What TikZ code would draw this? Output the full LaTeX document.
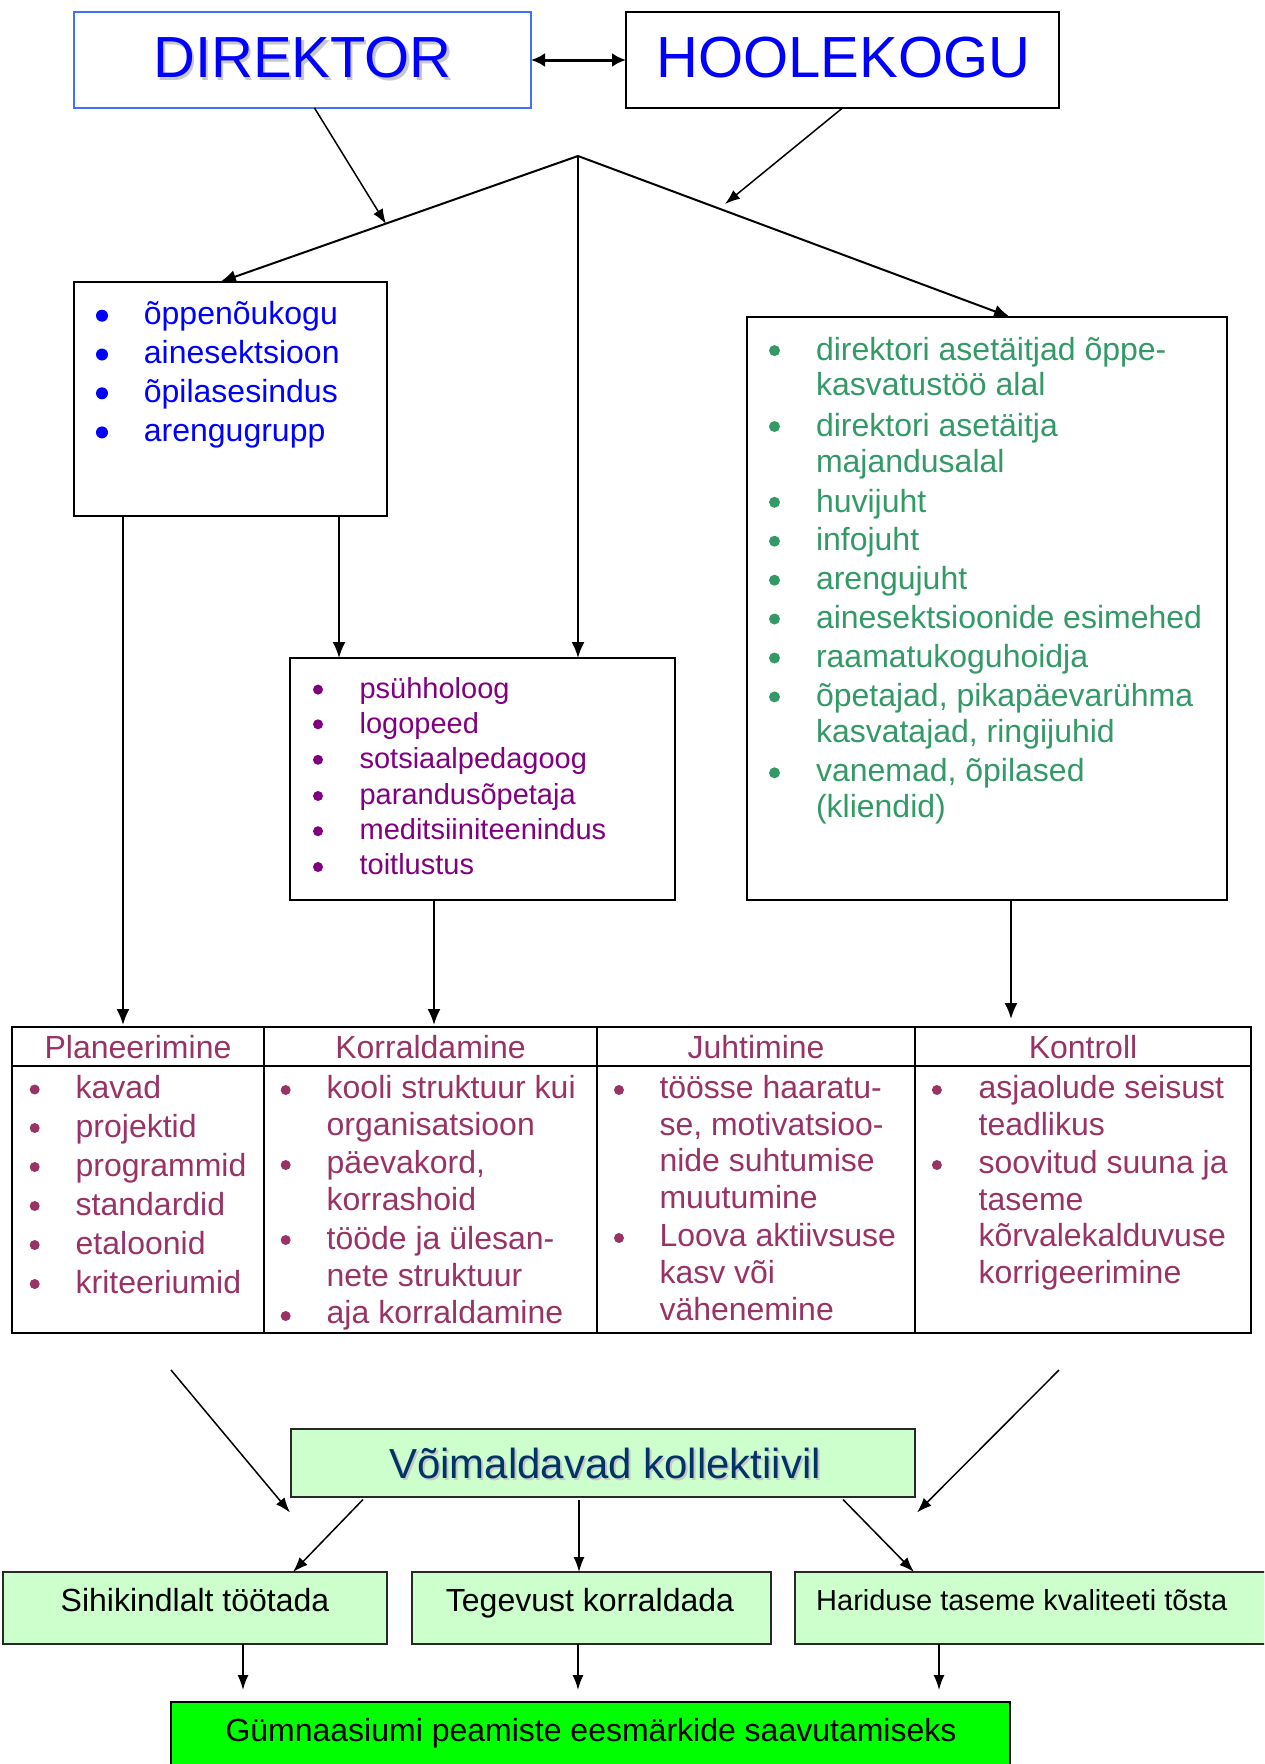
\documentclass[tikz,border=0pt]{standalone}
\usepackage{fontspec}
\setmainfont{Liberation Sans}
\usetikzlibrary{arrows.meta,calc}
\definecolor{dirblue}{RGB}{0,0,255}
\definecolor{dirframe}{RGB}{64,112,255}
\definecolor{purp}{RGB}{128,0,128}
\definecolor{grn}{RGB}{51,153,102}
\definecolor{plum}{RGB}{153,51,102}
\definecolor{navy}{RGB}{0,51,102}
\definecolor{lgreen}{RGB}{204,255,204}
\definecolor{bgreen}{RGB}{0,255,0}
\definecolor{shad}{RGB}{200,200,200}
\newcommand\mybul[4]{\fill[#1] (#2,#3) circle (#4pt);}
\begin{document}
\begin{tikzpicture}[x=1pt,y=-1pt,
 frame/.style={draw=black,line width=2pt,inner sep=0pt,outer sep=0pt},
 gbox/.style={frame,draw={rgb,255:red,40;green,40;blue,40},fill=lgreen},
 arr/.style={line width=2pt,-{Latex[length=16pt,width=13pt]}},
 tarr/.style={line width=1.5pt,-{Latex[length=15pt,width=11pt]}},
 lb/.style={anchor=base west,inner sep=0pt,text=dirblue,font=\fontsize{32}{38}\selectfont},
 mb/.style={anchor=base west,inner sep=0pt,text=purp,font=\fontsize{29}{35}\selectfont},
 rb/.style={anchor=base west,inner sep=0pt,text=grn,font=\fontsize{32}{38}\selectfont},
 tb/.style={anchor=base west,inner sep=0pt,text=plum,font=\fontsize{32}{38}\selectfont},
 th/.style={anchor=base,inner sep=0pt,text=plum,font=\fontsize{32}{38}\selectfont},
 big/.style={anchor=base,inner sep=0pt,font=\fontsize{58}{66}\selectfont},
 gt/.style={anchor=base,inner sep=0pt,text=black,font=\fontsize{32}{38}\selectfont},
]
\useasboundingbox (0,0) rectangle (1264,1764);
\clip (0,0) rectangle (1264,1764);

% ---------- top boxes
\node[frame,draw=dirframe,minimum width=457pt,minimum height=96pt] (dir) at (302.5,60) {};
\node[frame,minimum width=433pt,minimum height=96pt] (hoo) at (842.5,60) {};
\node[big,text=shad] (dirsh) at (305,80) {DIREKTOR};
\node[big,text=dirblue] (dirt) at (302.5,77.5) {DIREKTOR};
\node[big,text=dirblue] (hoot) at (843.5,77.5) {HOOLEKOGU};
\draw[line width=3pt,{Latex[length=14pt,width=14pt]}-{Latex[length=14pt,width=14pt]}] (dir.east) -- (hoo.west);

% ---------- second level boxes
\node[frame,minimum width=313pt,minimum height=234pt] (lbox) at (230.5,399) {};
\node[frame,minimum width=385pt,minimum height=242pt] (mbox) at (482.5,779) {};
\node[frame,minimum width=480pt,minimum height=583pt] (rbox) at (987,608.5) {};

\coordinate (apex) at (578,156);
\coordinate (djoin) at (386,224);
\coordinate (hjoin) at (725,204);
\draw[arr] (apex) -- ($(lbox.north west)+(146,0)$);
\draw[arr] (apex) -- ($(rbox.north west)+(263,0)$);
\draw[arr] (apex) -- ($(mbox.north west)+(288,0)$);
\draw[tarr] ($(dir.south)+(12,0)$) -- (djoin);
\draw[tarr] (hoo.south) -- (hjoin);

% left box list
\mybul{dirblue}{102}{315.7}{6}
\mybul{dirblue}{102}{354.5}{6}
\mybul{dirblue}{102}{393.3}{6}
\mybul{dirblue}{102}{432.4}{6}
\node[lb] (l1) at (143.7,324.3) {õppenõukogu};
\node[lb] (l2) at (143.7,363.9) {ainesektsioon};
\node[lb] (l3) at (143.7,402.6) {õpilasesindus};
\node[lb] (l4) at (143.7,441.4) {arengugrupp};

% middle box list
\foreach \yy in {689.6,724.3,759.8,796,831.2,867}{\mybul{purp}{318}{\yy}{5}}
\node[mb] (m1) at (359.4,698.6) {psühholoog};
\node[mb] (m2) at (359.4,733.3) {logopeed};
\node[mb] (m3) at (359.4,768.8) {sotsiaalpedagoog};
\node[mb] (m4) at (359.4,804.7) {parandusõpetaja};
\node[mb] (m5) at (359.4,839.4) {meditsiiniteenindus};
\node[mb] (m6) at (359.4,874.9) {toitlustus};

% right box list
\foreach \yy in {350.6,426.5,502.3,541.2,580.2,619,658,696.9,772.8}{\mybul{grn}{774.5}{\yy}{5.5}}
\node[rb] (r1) at (815.8,360.3) {direktori asetäitjad õppe-};
\node[rb] (r2) at (815.8,395.3) {kasvatustöö alal};
\node[rb] (r3) at (815.8,436.2) {direktori asetäitja};
\node[rb] (r4) at (815.8,472) {majandusalal};
\node[rb] (r5) at (815.8,512) {huvijuht};
\node[rb] (r6) at (815.8,550.2) {infojuht};
\node[rb] (r7) at (815.8,589.9) {arengujuht};
\node[rb] (r8) at (815.8,628.8) {ainesektsioonide esimehed};
\node[rb] (r9) at (815.8,667.7) {raamatukoguhoidja};
\node[rb] (r10) at (815.8,706.6) {õpetajad, pikapäevarühma};
\node[rb] (r11) at (815.8,742.4) {kasvatajad, ringijuhid};
\node[rb] (r12) at (815.8,781.3) {vanemad, õpilased};
\node[rb] (r13) at (815.8,817.5) {(kliendid)};

% ---------- table
\node[frame,minimum width=252pt,minimum height=39pt] (h1) at (138,1046.5) {};
\node[frame,minimum width=333pt,minimum height=39pt] (h2) at (430.5,1046.5) {};
\node[frame,minimum width=318pt,minimum height=39pt] (h3) at (756,1046.5) {};
\node[frame,minimum width=336pt,minimum height=39pt] (h4) at (1083,1046.5) {};
\node[frame,minimum width=252pt,minimum height=267pt] (b1) at (138,1199.5) {};
\node[frame,minimum width=333pt,minimum height=267pt] (b2) at (430.5,1199.5) {};
\node[frame,minimum width=318pt,minimum height=267pt] (b3) at (756,1199.5) {};
\node[frame,minimum width=336pt,minimum height=267pt] (b4) at (1083,1199.5) {};
\node[th] (t1) at (138,1058) {Planeerimine};
\node[th] (t2) at (430.5,1058) {Korraldamine};
\node[th] (t3) at (756,1058) {Juhtimine};
\node[th] (t4) at (1083,1058) {Kontroll};

\draw[arr] ($(lbox.south west)+(49,0)$) -- ($(h1.north west)+(111,-2)$);
\draw[arr] ($(lbox.south west)+(265,0)$) -- ($(mbox.north west)+(49,0)$);
\draw[arr] ($(mbox.south west)+(144,0)$) -- ($(h2.north west)+(170,-2)$);
\draw[arr] ($(rbox.south west)+(264,0)$) -- ($(h4.north west)+(96,-8)$);

% column 1
\foreach \yy in {1089.5,1128,1167,1206,1245,1284}{\mybul{plum}{34.7}{\yy}{5}}
\node[tb] (p1) at (75.5,1098.5) {kavad};
\node[tb] (p2) at (75.5,1137) {projektid};
\node[tb] (p3) at (75.5,1176) {programmid};
\node[tb] (p4) at (75.5,1215) {standardid};
\node[tb] (p5) at (75.5,1254) {etaloonid};
\node[tb] (p6) at (75.5,1293) {kriteeriumid};
% column 2
\foreach \yy in {1090,1165,1240,1316}{\mybul{plum}{285.7}{\yy}{5}}
\node[tb] (k1) at (326.5,1098) {kooli struktuur kui};
\node[tb] (k2) at (326.5,1135) {organisatsioon};
\node[tb] (k3) at (326.5,1173) {päevakord,};
\node[tb] (k4) at (326.5,1210) {korrashoid};
\node[tb] (k5) at (326.5,1249) {tööde ja ülesan-};
\node[tb] (k6) at (326.5,1286) {nete struktuur};
\node[tb] (k7) at (326.5,1323) {aja korraldamine};
% column 3
\foreach \yy in {1090,1238}{\mybul{plum}{619}{\yy}{5}}
\node[tb] (j1) at (659.3,1098) {töösse haaratu-};
\node[tb] (j2) at (659.3,1135) {se, motivatsioo-};
\node[tb] (j3) at (659.3,1171.7) {nide suhtumise};
\node[tb] (j4) at (659.3,1208) {muutumine};
\node[tb] (j5) at (659.3,1246.7) {Loova aktiivsuse};
\node[tb] (j6) at (659.3,1283) {kasv või};
\node[tb] (j7) at (659.3,1320) {vähenemine};
% column 4
\foreach \yy in {1090,1165}{\mybul{plum}{936.9}{\yy}{5}}
\node[tb] (c1) at (978.4,1098) {asjaolude seisust};
\node[tb] (c2) at (978.4,1135) {teadlikus};
\node[tb] (c3) at (978.4,1173) {soovitud suuna ja};
\node[tb] (c4) at (978.4,1210) {taseme};
\node[tb] (c5) at (978.4,1246.7) {kõrvalekalduvuse};
\node[tb] (c6) at (978.4,1283) {korrigeerimine};

% ---------- bottom part
\node[gbox,minimum width=624pt,minimum height=68pt] (vk) at (603,1462.5) {};
\node[anchor=base,inner sep=0pt,text=shad,font=\fontsize{42}{48}\selectfont] (vksh) at (607,1480.5) {Võimaldavad kollektiivil};
\node[anchor=base,inner sep=0pt,text=navy,font=\fontsize{42}{48}\selectfont] (vkt) at (605,1478.3) {Võimaldavad kollektiivil};

\node[gbox,minimum width=384pt,minimum height=72pt] (s1) at (195,1608) {};
\node[gbox,minimum width=359pt,minimum height=72pt] (s2) at (591.5,1608) {};
\node[gbox,minimum width=480pt,minimum height=72pt] (s3) at (1035,1608) {};
\node[gt] (s1t) at (195,1611.5) {Sihikindlalt töötada};
\node[gt] (s2t) at (590,1611.5) {Tegevust korraldada};
\node[anchor=base west,inner sep=0pt,font=\fontsize{29}{35}\selectfont] (s3t) at (816,1610) {Hariduse taseme kvaliteeti tõsta};

\node[frame,fill=bgreen,minimum width=839pt,minimum height=84pt] (goal) at (590.5,1744) {};
\node[gt] (goalt) at (591,1741) {Gümnaasiumi peamiste eesmärkide saavutamiseks};

\coordinate (tl) at (171,1370);
\coordinate (tr) at (1059,1370);
\draw[tarr] (tl) -- ($(vk.south west)+(-1,16)$);
\draw[tarr] (tr) -- ($(vk.south east)+(2,16)$);
\draw[tarr] ($(vk.south west)+(72,3)$) -- ($(s1.north east)+(-94,0)$);
\draw[tarr] ($(vk.south west)+(288,3)$) -- ($(s2.north west)+(167,0)$);
\draw[tarr] ($(vk.south west)+(552,3)$) -- ($(s3.north west)+(119,0)$);
\draw[tarr] ($(s1.south west)+(240,0)$) -- ($(goal.north west)+(72,-12)$);
\draw[tarr] ($(s2.south west)+(166,0)$) -- ($(goal.north west)+(407,-12)$);
\draw[tarr] ($(s3.south west)+(144,0)$) -- ($(goal.north west)+(768,-12)$);
\end{tikzpicture}
\end{document}
